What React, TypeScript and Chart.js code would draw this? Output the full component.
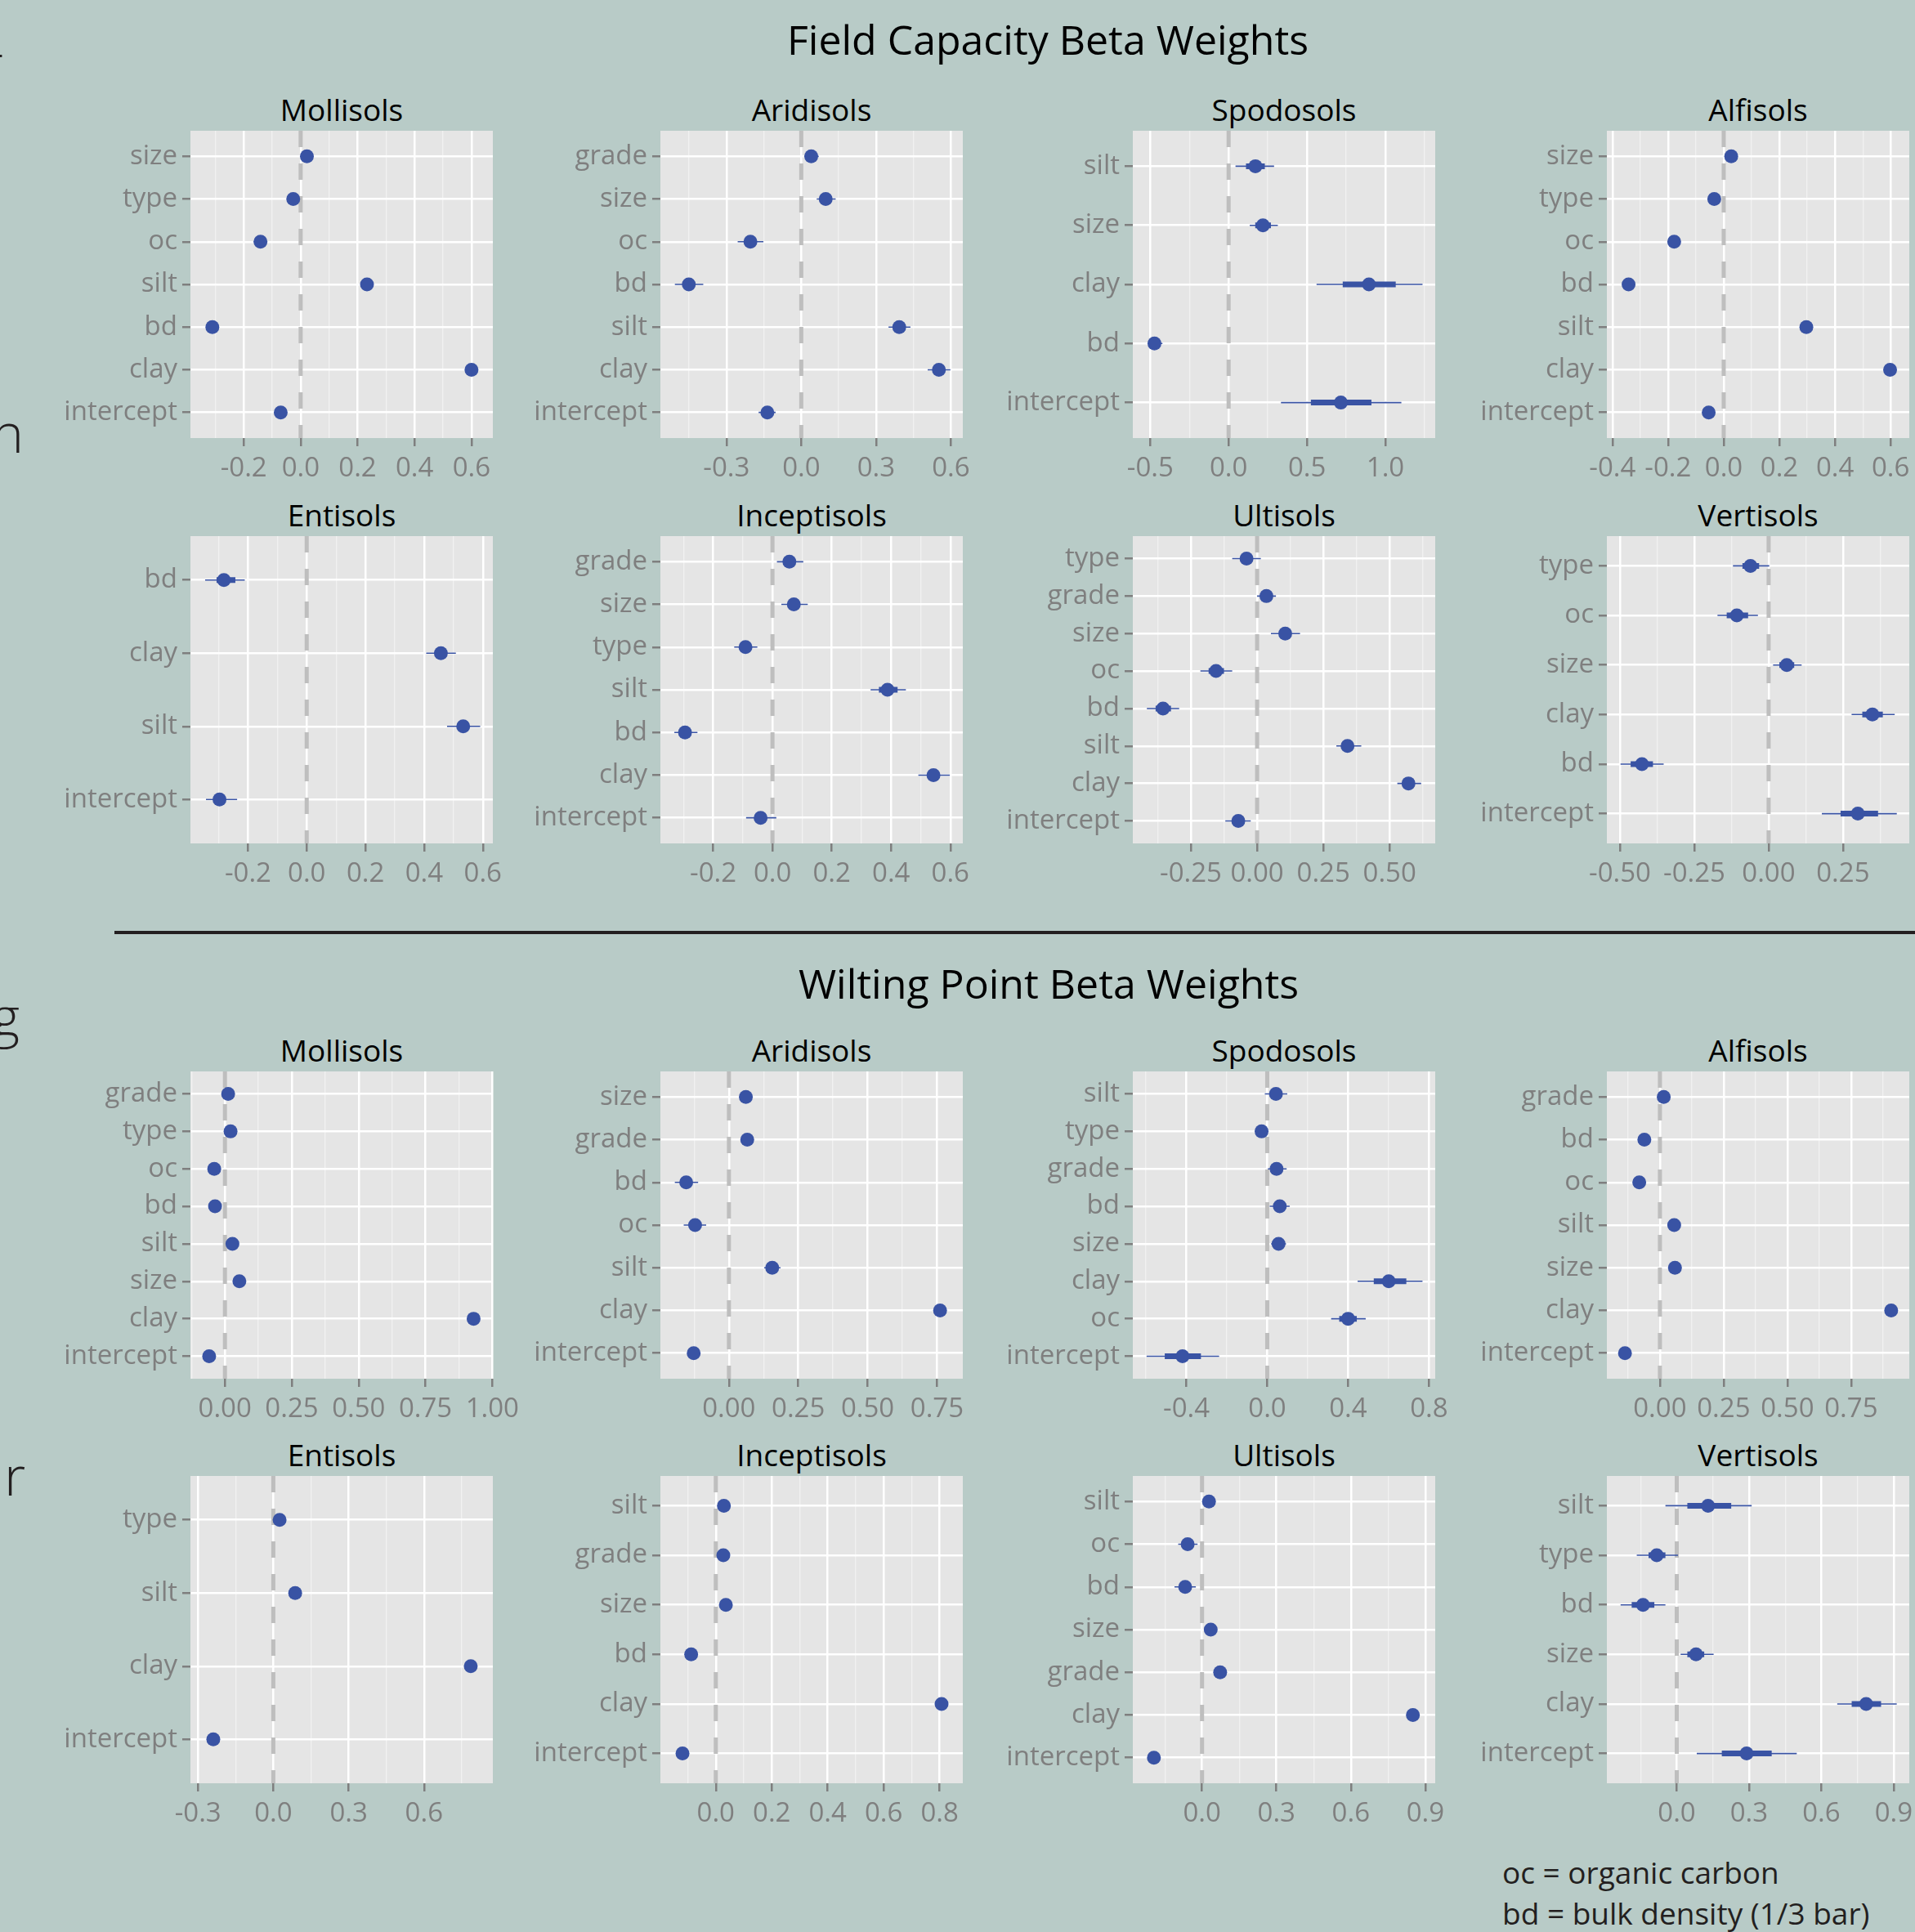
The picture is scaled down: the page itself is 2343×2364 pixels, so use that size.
import React, { useEffect, useRef } from "react";
import { Chart, registerables } from "chart.js";

Chart.register(...registerables);

// ---------------- DATA ----------------
// Field Capacity
const fcMollisolsLabels = ["size", "type", "oc", "silt", "bd", "clay", "intercept"];
const fcMollisolsEst = [0.022, -0.026, -0.141, 0.233, -0.31, 0.6, -0.07];
const fcMollisolsLo95 = [0.01, -0.036, -0.165, 0.222, -0.332, 0.588, -0.082];
const fcMollisolsHi95 = [0.034, -0.016, -0.117, 0.244, -0.288, 0.612, -0.058];
const fcMollisolsLo50 = [0.018, -0.03, -0.149, 0.229, -0.318, 0.596, -0.074];
const fcMollisolsHi50 = [0.026, -0.022, -0.133, 0.237, -0.302, 0.604, -0.066];
const fcMollisolsRange = [-0.387, 0.675];
const fcMollisolsTicks = ["-0.2", "0.0", "0.2", "0.4", "0.6"];
const fcMollisolsMinor = [-0.3, -0.1, 0.1, 0.3, 0.5];

const fcAridisolsLabels = ["grade", "size", "oc", "bd", "silt", "clay", "intercept"];
const fcAridisolsEst = [0.04, 0.098, -0.204, -0.451, 0.393, 0.552, -0.136];
const fcAridisolsLo95 = [0.012, 0.062, -0.255, -0.507, 0.35, 0.507, -0.171];
const fcAridisolsHi95 = [0.07, 0.138, -0.152, -0.393, 0.438, 0.598, -0.103];
const fcAridisolsLo50 = [0.028, 0.082, -0.222, -0.472, 0.378, 0.537, -0.15];
const fcAridisolsHi50 = [0.052, 0.114, -0.186, -0.43, 0.408, 0.567, -0.122];
const fcAridisolsRange = [-0.565, 0.648];
const fcAridisolsTicks = ["-0.3", "0.0", "0.3", "0.6"];
const fcAridisolsMinor = [-0.45, -0.15, 0.15, 0.45];

const fcSpodosolsLabels = ["silt", "size", "clay", "bd", "intercept"];
const fcSpodosolsEst = [0.171, 0.219, 0.895, -0.473, 0.716];
const fcSpodosolsLo95 = [0.044, 0.135, 0.561, -0.513, 0.334];
const fcSpodosolsHi95 = [0.29, 0.314, 1.237, -0.422, 1.102];
const fcSpodosolsLo50 = [0.111, 0.17, 0.728, -0.49, 0.525];
const fcSpodosolsHi50 = [0.231, 0.27, 1.066, -0.455, 0.911];
const fcSpodosolsRange = [-0.611, 1.318];
const fcSpodosolsTicks = ["-0.5", "0.0", "0.5", "1.0"];
const fcSpodosolsMinor = [-0.25, 0.25, 0.75, 1.25];

const fcAlfisolsLabels = ["size", "type", "oc", "bd", "silt", "clay", "intercept"];
const fcAlfisolsEst = [0.027, -0.034, -0.178, -0.342, 0.297, 0.598, -0.054];
const fcAlfisolsLo95 = [0.017, -0.044, -0.19, -0.356, 0.287, 0.588, -0.064];
const fcAlfisolsHi95 = [0.037, -0.024, -0.166, -0.328, 0.307, 0.608, -0.044];
const fcAlfisolsLo50 = [0.023, -0.038, -0.183, -0.347, 0.293, 0.594, -0.058];
const fcAlfisolsHi50 = [0.031, -0.03, -0.173, -0.337, 0.301, 0.602, -0.05];
const fcAlfisolsRange = [-0.42, 0.667];
const fcAlfisolsTicks = ["-0.4", "-0.2", "0.0", "0.2", "0.4", "0.6"];
const fcAlfisolsMinor = [-0.3, -0.1, 0.1, 0.3, 0.5];

const fcEntisolsLabels = ["bd", "clay", "silt", "intercept"];
const fcEntisolsEst = [-0.282, 0.457, 0.533, -0.297];
const fcEntisolsLo95 = [-0.346, 0.407, 0.478, -0.343];
const fcEntisolsHi95 = [-0.211, 0.508, 0.591, -0.237];
const fcEntisolsLo50 = [-0.307, 0.44, 0.515, -0.315];
const fcEntisolsHi50 = [-0.243, 0.474, 0.551, -0.279];
const fcEntisolsRange = [-0.396, 0.634];
const fcEntisolsTicks = ["-0.2", "0.0", "0.2", "0.4", "0.6"];
const fcEntisolsMinor = [-0.3, -0.1, 0.1, 0.3, 0.5];

const fcInceptisolsLabels = ["grade", "size", "type", "silt", "bd", "clay", "intercept"];
const fcInceptisolsEst = [0.057, 0.072, -0.091, 0.388, -0.295, 0.543, -0.04];
const fcInceptisolsLo95 = [0.015, 0.03, -0.129, 0.331, -0.331, 0.492, -0.089];
const fcInceptisolsHi95 = [0.104, 0.119, -0.051, 0.45, -0.253, 0.598, 0.013];
const fcInceptisolsLo50 = [0.043, 0.058, -0.104, 0.359, -0.308, 0.526, -0.057];
const fcInceptisolsHi50 = [0.072, 0.087, -0.078, 0.422, -0.28, 0.561, -0.023];
const fcInceptisolsRange = [-0.378, 0.642];
const fcInceptisolsTicks = ["-0.2", "0.0", "0.2", "0.4", "0.6"];
const fcInceptisolsMinor = [-0.3, -0.1, 0.1, 0.3, 0.5];

const fcUltisolsLabels = ["type", "grade", "size", "oc", "bd", "silt", "clay", "intercept"];
const fcUltisolsEst = [-0.04, 0.035, 0.106, -0.155, -0.355, 0.341, 0.571, -0.071];
const fcUltisolsLo95 = [-0.094, 0.0, 0.052, -0.214, -0.416, 0.299, 0.529, -0.12];
const fcUltisolsHi95 = [0.014, 0.071, 0.162, -0.094, -0.294, 0.393, 0.619, -0.024];
const fcUltisolsLo50 = [-0.06, 0.022, 0.086, -0.183, -0.383, 0.324, 0.555, -0.088];
const fcUltisolsHi50 = [-0.02, 0.048, 0.126, -0.125, -0.325, 0.358, 0.587, -0.054];
const fcUltisolsRange = [-0.469, 0.672];
const fcUltisolsTicks = ["-0.25", "0.00", "0.25", "0.50"];
const fcUltisolsMinor = [-0.375, -0.125, 0.125, 0.375, 0.625];

const fcVertisolsLabels = ["type", "oc", "size", "clay", "bd", "intercept"];
const fcVertisolsEst = [-0.061, -0.107, 0.061, 0.349, -0.426, 0.3];
const fcVertisolsLo95 = [-0.12, -0.172, 0.015, 0.279, -0.498, 0.179];
const fcVertisolsHi95 = [0.002, -0.036, 0.111, 0.424, -0.353, 0.431];
const fcVertisolsLo50 = [-0.088, -0.141, 0.036, 0.315, -0.464, 0.242];
const fcVertisolsHi50 = [-0.032, -0.069, 0.086, 0.384, -0.389, 0.368];
const fcVertisolsRange = [-0.544, 0.473];
const fcVertisolsTicks = ["-0.50", "-0.25", "0.00", "0.25"];
const fcVertisolsMinor = [-0.375, -0.125, 0.125, 0.375];

// Wilting Point
const wpMollisolsLabels = ["grade", "type", "oc", "bd", "silt", "size", "clay", "intercept"];
const wpMollisolsEst = [0.012, 0.021, -0.04, -0.037, 0.028, 0.054, 0.93, -0.059];
const wpMollisolsLo95 = [0.0, 0.009, -0.052, -0.049, 0.016, 0.042, 0.918, -0.071];
const wpMollisolsHi95 = [0.024, 0.033, -0.028, -0.025, 0.04, 0.066, 0.942, -0.047];
const wpMollisolsLo50 = [0.008, 0.017, -0.044, -0.041, 0.024, 0.05, 0.926, -0.063];
const wpMollisolsHi50 = [0.016, 0.025, -0.036, -0.033, 0.032, 0.058, 0.934, -0.055];
const wpMollisolsRange = [-0.129, 1.002];
const wpMollisolsTicks = ["0.00", "0.25", "0.50", "0.75", "1.00"];
const wpMollisolsMinor = [-0.125, 0.125, 0.375, 0.625, 0.875];

const wpAridisolsLabels = ["size", "grade", "bd", "oc", "silt", "clay", "intercept"];
const wpAridisolsEst = [0.061, 0.066, -0.154, -0.122, 0.156, 0.761, -0.127];
const wpAridisolsLo95 = [0.045, 0.052, -0.195, -0.163, 0.127, 0.745, -0.142];
const wpAridisolsHi95 = [0.077, 0.08, -0.111, -0.082, 0.186, 0.777, -0.112];
const wpAridisolsLo50 = [0.055, 0.061, -0.168, -0.136, 0.146, 0.755, -0.132];
const wpAridisolsHi50 = [0.067, 0.071, -0.14, -0.108, 0.166, 0.767, -0.122];
const wpAridisolsRange = [-0.247, 0.843];
const wpAridisolsTicks = ["0.00", "0.25", "0.50", "0.75"];
const wpAridisolsMinor = [-0.125, 0.125, 0.375, 0.625];

const wpSpodosolsLabels = ["silt", "type", "grade", "bd", "size", "clay", "oc", "intercept"];
const wpSpodosolsEst = [0.043, -0.028, 0.046, 0.062, 0.056, 0.601, 0.4, -0.419];
const wpSpodosolsLo95 = [-0.012, -0.059, 0.003, 0.012, 0.019, 0.447, 0.316, -0.597];
const wpSpodosolsHi95 = [0.099, 0.003, 0.096, 0.111, 0.093, 0.768, 0.487, -0.238];
const wpSpodosolsLo50 = [0.02, -0.042, 0.025, 0.04, 0.04, 0.527, 0.356, -0.507];
const wpSpodosolsHi50 = [0.066, -0.014, 0.067, 0.084, 0.072, 0.688, 0.443, -0.328];
const wpSpodosolsRange = [-0.665, 0.831];
const wpSpodosolsTicks = ["-0.4", "0.0", "0.4", "0.8"];
const wpSpodosolsMinor = [-0.6, -0.2, 0.2, 0.6];

const wpAlfisolsLabels = ["grade", "bd", "oc", "silt", "size", "clay", "intercept"];
const wpAlfisolsEst = [0.015, -0.061, -0.081, 0.056, 0.059, 0.907, -0.137];
const wpAlfisolsLo95 = [0.005, -0.071, -0.091, 0.046, 0.049, 0.897, -0.147];
const wpAlfisolsHi95 = [0.025, -0.051, -0.071, 0.066, 0.069, 0.917, -0.127];
const wpAlfisolsLo50 = [0.011, -0.065, -0.085, 0.052, 0.055, 0.903, -0.141];
const wpAlfisolsHi50 = [0.019, -0.057, -0.077, 0.06, 0.063, 0.911, -0.133];
const wpAlfisolsRange = [-0.208, 0.978];
const wpAlfisolsTicks = ["0.00", "0.25", "0.50", "0.75"];
const wpAlfisolsMinor = [-0.125, 0.125, 0.375, 0.625, 0.875];

const wpEntisolsLabels = ["type", "silt", "clay", "intercept"];
const wpEntisolsEst = [0.025, 0.087, 0.786, -0.239];
const wpEntisolsLo95 = [0.01, 0.062, 0.763, -0.262];
const wpEntisolsHi95 = [0.04, 0.112, 0.809, -0.216];
const wpEntisolsLo50 = [0.019, 0.078, 0.778, -0.247];
const wpEntisolsHi50 = [0.031, 0.096, 0.794, -0.231];
const wpEntisolsRange = [-0.33, 0.874];
const wpEntisolsTicks = ["-0.3", "0.0", "0.3", "0.6"];
const wpEntisolsMinor = [-0.15, 0.15, 0.45, 0.75];

const wpInceptisolsLabels = ["silt", "grade", "size", "bd", "clay", "intercept"];
const wpInceptisolsEst = [0.029, 0.027, 0.036, -0.088, 0.807, -0.119];
const wpInceptisolsLo95 = [0.012, 0.015, 0.022, -0.102, 0.79, -0.133];
const wpInceptisolsHi95 = [0.046, 0.039, 0.05, -0.074, 0.824, -0.105];
const wpInceptisolsLo50 = [0.023, 0.022, 0.031, -0.093, 0.801, -0.124];
const wpInceptisolsHi50 = [0.035, 0.032, 0.041, -0.083, 0.813, -0.114];
const wpInceptisolsRange = [-0.198, 0.883];
const wpInceptisolsTicks = ["0.0", "0.2", "0.4", "0.6", "0.8"];
const wpInceptisolsMinor = [-0.1, 0.1, 0.3, 0.5, 0.7];

const wpUltisolsLabels = ["silt", "oc", "bd", "size", "grade", "clay", "intercept"];
const wpUltisolsEst = [0.028, -0.058, -0.068, 0.035, 0.073, 0.85, -0.194];
const wpUltisolsLo95 = [0.01, -0.096, -0.111, 0.015, 0.058, 0.832, -0.21];
const wpUltisolsHi95 = [0.046, -0.018, -0.025, 0.055, 0.088, 0.868, -0.178];
const wpUltisolsLo50 = [0.021, -0.072, -0.083, 0.028, 0.067, 0.843, -0.2];
const wpUltisolsHi50 = [0.035, -0.044, -0.053, 0.042, 0.079, 0.857, -0.188];
const wpUltisolsRange = [-0.279, 0.94];
const wpUltisolsTicks = ["0.0", "0.3", "0.6", "0.9"];
const wpUltisolsMinor = [-0.15, 0.15, 0.45, 0.75];

const wpVertisolsLabels = ["silt", "type", "bd", "size", "clay", "intercept"];
const wpVertisolsEst = [0.13, -0.083, -0.14, 0.08, 0.786, 0.29];
const wpVertisolsLo95 = [-0.047, -0.166, -0.233, 0.016, 0.666, 0.083];
const wpVertisolsHi95 = [0.311, 0.005, -0.047, 0.153, 0.913, 0.498];
const wpVertisolsLo50 = [0.044, -0.117, -0.187, 0.044, 0.726, 0.187];
const wpVertisolsHi50 = [0.226, -0.047, -0.093, 0.114, 0.848, 0.394];
const wpVertisolsRange = [-0.29, 0.965];
const wpVertisolsTicks = ["0.0", "0.3", "0.6", "0.9"];
const wpVertisolsMinor = [-0.15, 0.15, 0.45, 0.75];

const sectionTitles = ["Field Capacity Beta Weights", "Wilting Point Beta Weights"];
const captionLines = ["oc = organic carbon", "bd = bulk density (1/3 bar)"];

// ---------------- PANEL SPECS ----------------
type Spec = {
  title: string;
  labels: string[];
  est: number[];
  lo95: number[];
  hi95: number[];
  lo50: number[];
  hi50: number[];
  range: number[];
  ticks: string[];
  minor: number[];
};

const PANELS: Spec[] = [
  { title: "Mollisols", labels: fcMollisolsLabels, est: fcMollisolsEst, lo95: fcMollisolsLo95, hi95: fcMollisolsHi95, lo50: fcMollisolsLo50, hi50: fcMollisolsHi50, range: fcMollisolsRange, ticks: fcMollisolsTicks, minor: fcMollisolsMinor },
  { title: "Aridisols", labels: fcAridisolsLabels, est: fcAridisolsEst, lo95: fcAridisolsLo95, hi95: fcAridisolsHi95, lo50: fcAridisolsLo50, hi50: fcAridisolsHi50, range: fcAridisolsRange, ticks: fcAridisolsTicks, minor: fcAridisolsMinor },
  { title: "Spodosols", labels: fcSpodosolsLabels, est: fcSpodosolsEst, lo95: fcSpodosolsLo95, hi95: fcSpodosolsHi95, lo50: fcSpodosolsLo50, hi50: fcSpodosolsHi50, range: fcSpodosolsRange, ticks: fcSpodosolsTicks, minor: fcSpodosolsMinor },
  { title: "Alfisols", labels: fcAlfisolsLabels, est: fcAlfisolsEst, lo95: fcAlfisolsLo95, hi95: fcAlfisolsHi95, lo50: fcAlfisolsLo50, hi50: fcAlfisolsHi50, range: fcAlfisolsRange, ticks: fcAlfisolsTicks, minor: fcAlfisolsMinor },
  { title: "Entisols", labels: fcEntisolsLabels, est: fcEntisolsEst, lo95: fcEntisolsLo95, hi95: fcEntisolsHi95, lo50: fcEntisolsLo50, hi50: fcEntisolsHi50, range: fcEntisolsRange, ticks: fcEntisolsTicks, minor: fcEntisolsMinor },
  { title: "Inceptisols", labels: fcInceptisolsLabels, est: fcInceptisolsEst, lo95: fcInceptisolsLo95, hi95: fcInceptisolsHi95, lo50: fcInceptisolsLo50, hi50: fcInceptisolsHi50, range: fcInceptisolsRange, ticks: fcInceptisolsTicks, minor: fcInceptisolsMinor },
  { title: "Ultisols", labels: fcUltisolsLabels, est: fcUltisolsEst, lo95: fcUltisolsLo95, hi95: fcUltisolsHi95, lo50: fcUltisolsLo50, hi50: fcUltisolsHi50, range: fcUltisolsRange, ticks: fcUltisolsTicks, minor: fcUltisolsMinor },
  { title: "Vertisols", labels: fcVertisolsLabels, est: fcVertisolsEst, lo95: fcVertisolsLo95, hi95: fcVertisolsHi95, lo50: fcVertisolsLo50, hi50: fcVertisolsHi50, range: fcVertisolsRange, ticks: fcVertisolsTicks, minor: fcVertisolsMinor },
  { title: "Mollisols", labels: wpMollisolsLabels, est: wpMollisolsEst, lo95: wpMollisolsLo95, hi95: wpMollisolsHi95, lo50: wpMollisolsLo50, hi50: wpMollisolsHi50, range: wpMollisolsRange, ticks: wpMollisolsTicks, minor: wpMollisolsMinor },
  { title: "Aridisols", labels: wpAridisolsLabels, est: wpAridisolsEst, lo95: wpAridisolsLo95, hi95: wpAridisolsHi95, lo50: wpAridisolsLo50, hi50: wpAridisolsHi50, range: wpAridisolsRange, ticks: wpAridisolsTicks, minor: wpAridisolsMinor },
  { title: "Spodosols", labels: wpSpodosolsLabels, est: wpSpodosolsEst, lo95: wpSpodosolsLo95, hi95: wpSpodosolsHi95, lo50: wpSpodosolsLo50, hi50: wpSpodosolsHi50, range: wpSpodosolsRange, ticks: wpSpodosolsTicks, minor: wpSpodosolsMinor },
  { title: "Alfisols", labels: wpAlfisolsLabels, est: wpAlfisolsEst, lo95: wpAlfisolsLo95, hi95: wpAlfisolsHi95, lo50: wpAlfisolsLo50, hi50: wpAlfisolsHi50, range: wpAlfisolsRange, ticks: wpAlfisolsTicks, minor: wpAlfisolsMinor },
  { title: "Entisols", labels: wpEntisolsLabels, est: wpEntisolsEst, lo95: wpEntisolsLo95, hi95: wpEntisolsHi95, lo50: wpEntisolsLo50, hi50: wpEntisolsHi50, range: wpEntisolsRange, ticks: wpEntisolsTicks, minor: wpEntisolsMinor },
  { title: "Inceptisols", labels: wpInceptisolsLabels, est: wpInceptisolsEst, lo95: wpInceptisolsLo95, hi95: wpInceptisolsHi95, lo50: wpInceptisolsLo50, hi50: wpInceptisolsHi50, range: wpInceptisolsRange, ticks: wpInceptisolsTicks, minor: wpInceptisolsMinor },
  { title: "Ultisols", labels: wpUltisolsLabels, est: wpUltisolsEst, lo95: wpUltisolsLo95, hi95: wpUltisolsHi95, lo50: wpUltisolsLo50, hi50: wpUltisolsHi50, range: wpUltisolsRange, ticks: wpUltisolsTicks, minor: wpUltisolsMinor },
  { title: "Vertisols", labels: wpVertisolsLabels, est: wpVertisolsEst, lo95: wpVertisolsLo95, hi95: wpVertisolsHi95, lo50: wpVertisolsLo50, hi50: wpVertisolsHi50, range: wpVertisolsRange, ticks: wpVertisolsTicks, minor: wpVertisolsMinor },
];

// ---------------- LAYOUT / STYLE ----------------
const PAGE_W = 2343;
const PAGE_H = 2364;
const BG = "#B8CBC7";
const PANEL_BG = "#E5E5E5";
const MINOR_GRID = "#F1F1F1";
const BLUE = "#3953A4";
const AXIS_GREY = "#7F7F7F";
const INK = "#231F20";
const FONT = "'Open Sans', 'Noto Sans', 'DejaVu Sans', sans-serif";

const COL_LEFT = [233, 808, 1386, 1966];
const ROW_TOP = [160, 656, 1311, 1806];
const PLOT_W = 370;
const PLOT_H = 376;
const YW = 220; // y-axis band width
const PT = 40; // top padding in canvas
const PR = 44; // right padding in canvas
const XH = 62; // x-axis band height
const CW = YW + PLOT_W + PR;
const CH = PT + PLOT_H + XH;

const panelBgPlugin = {
  id: "panelBg",
  beforeDraw(chart: any) {
    const { ctx, chartArea: a } = chart;
    ctx.save();
    ctx.fillStyle = PANEL_BG;
    ctx.fillRect(a.left, a.top, a.right - a.left, a.bottom - a.top);
    ctx.restore();
  },
};

function Panel({ spec, row, col }: { spec: Spec; row: number; col: number }) {
  const ref = useRef<HTMLCanvasElement | null>(null);

  useEffect(() => {
    const canvas = ref.current;
    if (!canvas) return;
    const n = spec.labels.length;
    const [xMin, xMax] = spec.range;
    const majorVals = spec.ticks.map(Number);
    const labelMap = new Map<number, string>();
    majorVals.forEach((v, i) => labelMap.set(v, spec.ticks[i]));
    const xTicks = [
      ...majorVals.map((v) => ({ value: v, minor: false })),
      ...spec.minor.map((v) => ({ value: v, minor: true })),
    ]
      .filter((t) => t.value >= xMin - 1e-9 && t.value <= xMax + 1e-9)
      .sort((a, b) => a.value - b.value);
    const yTicks = spec.labels.map((_, i) => ({ value: i + 1, minor: false }));

    const seg = (lo: number[], hi: number[]) => {
      const out: any[] = [];
      lo.forEach((l, i) => {
        out.push({ x: l, y: i + 1 }, { x: hi[i], y: i + 1 }, { x: l, y: null });
      });
      return out;
    };

    const isMinor = (ctx: any) => !!(ctx && ctx.tick && ctx.tick.minor);

    const chart = new Chart(canvas, {
      type: "scatter",
      data: {
        datasets: [
          {
            data: spec.est.map((v, i) => ({ x: v, y: i + 1 })),
            pointRadius: 8.5,
            pointHoverRadius: 8.5,
            backgroundColor: BLUE,
            borderColor: BLUE,
            borderWidth: 0,
            pointBorderWidth: 0,
          },
          {
            data: seg(spec.lo50, spec.hi50),
            showLine: true,
            borderColor: BLUE,
            borderWidth: 7,
            borderCapStyle: "butt",
            pointRadius: 0,
            pointHoverRadius: 0,
            spanGaps: false,
          },
          {
            data: seg(spec.lo95, spec.hi95),
            showLine: true,
            borderColor: BLUE,
            borderWidth: 1.6,
            borderCapStyle: "butt",
            pointRadius: 0,
            pointHoverRadius: 0,
            spanGaps: false,
          },
          {
            data: [
              { x: 0, y: 0.4 },
              { x: 0, y: n + 0.6 },
            ],
            showLine: true,
            borderColor: "#BEBEBE",
            borderWidth: 5,
            borderDash: [20, 20],
            borderCapStyle: "butt",
            pointRadius: 0,
            pointHoverRadius: 0,
          },
        ],
      } as any,
      options: {
        animation: false,
        responsive: false,
        maintainAspectRatio: false,
        devicePixelRatio: 1,
        events: [],
        layout: { padding: { left: 0, top: PT, right: PR, bottom: 0 } },
        plugins: {
          legend: { display: false },
          tooltip: { enabled: false },
          title: { display: false },
        },
        scales: {
          x: {
            type: "linear",
            min: xMin,
            max: xMax,
            bounds: "data",
            afterBuildTicks: (s: any) => {
              s.ticks = xTicks.map((t) => ({ ...t }));
            },
            afterFit: (s: any) => {
              s.height = XH;
            },
            border: { display: false },
            grid: {
              drawOnChartArea: true,
              drawTicks: true,
              tickLength: 10,
              color: (ctx: any) => (isMinor(ctx) ? MINOR_GRID : "#FFFFFF"),
              lineWidth: (ctx: any) => (isMinor(ctx) ? 1.3 : 2.5),
              tickColor: (ctx: any) => (isMinor(ctx) ? "rgba(0,0,0,0)" : AXIS_GREY),
              tickWidth: 2.5,
            },
            ticks: {
              autoSkip: false,
              maxRotation: 0,
              minRotation: 0,
              padding: 8,
              color: AXIS_GREY,
              font: { family: FONT, size: 33 },
              callback: (v: any) => labelMap.get(Number(v)) ?? "",
            },
          },
          y: {
            type: "linear",
            reverse: true,
            min: 0.4,
            max: n + 0.6,
            bounds: "data",
            afterBuildTicks: (s: any) => {
              s.ticks = yTicks.map((t) => ({ ...t }));
            },
            afterFit: (s: any) => {
              s.width = YW;
            },
            border: { display: false },
            grid: {
              drawOnChartArea: true,
              drawTicks: true,
              tickLength: 10,
              color: "#FFFFFF",
              lineWidth: 2.5,
              tickColor: AXIS_GREY,
              tickWidth: 2.5,
            },
            ticks: {
              autoSkip: false,
              padding: 6,
              color: AXIS_GREY,
              font: { family: FONT, size: 33 },
              callback: (v: any) => spec.labels[Math.round(Number(v)) - 1] ?? "",
            },
          },
        },
      } as any,
      plugins: [panelBgPlugin],
    });
    return () => chart.destroy();
  }, [spec]);

  const left = COL_LEFT[col] - YW;
  const top = ROW_TOP[row] - PT;
  return (
    <canvas
      ref={ref}
      width={CW}
      height={CH}
      style={{ position: "absolute", left, top, width: CW, height: CH }}
    />
  );
}

function TextAt({
  text,
  x,
  baseline,
  size,
  color,
  align = "left",
  weight = 400,
}: {
  text: string;
  x: number;
  baseline: number;
  size: number;
  color: string;
  align?: "left" | "center" | "right";
  weight?: number;
}) {
  const style: any = {
    position: "absolute",
    top: baseline - 0.888 * size,
    fontFamily: FONT,
    fontSize: size,
    lineHeight: `${size}px`,
    color,
    whiteSpace: "nowrap",
    fontWeight: weight,
  };
  if (align === "left") style.left = x;
  if (align === "center") {
    style.left = x;
    style.transform = "translateX(-50%)";
  }
  if (align === "right") style.right = PAGE_W - x;
  return <div style={style}>{text}</div>;
}

export default function App() {
  useEffect(() => {
    document.body.style.margin = "0";
  }, []);

  return (
    <div
      style={{
        position: "absolute",
        left: 0,
        top: 0,
        width: PAGE_W,
        height: PAGE_H,
        background: BG,
        overflow: "hidden",
      }}
    >
      {/* clipped fragments of neighbouring text at the left edge */}
      <TextAt text="-" x={5} baseline={86} size={67} color={INK} align="right" weight={300} />
      <TextAt text="n" x={29} baseline={554} size={67} color={INK} align="right" weight={300} />
      <TextAt text="g" x={24} baseline={1268} size={67} color={INK} align="right" weight={300} />
      <TextAt text="ar" x={31} baseline={1830} size={67} color={INK} align="right" weight={300} />

      <TextAt text={sectionTitles[0]} x={1282} baseline={67} size={50} color="#000" align="center" />
      <TextAt text={sectionTitles[1]} x={1283} baseline={1222} size={50} color="#000" align="center" />

      <div
        style={{
          position: "absolute",
          left: 140,
          top: 1139,
          width: PAGE_W - 140,
          height: 4,
          background: INK,
        }}
      />

      {PANELS.map((spec, i) => {
        const row = Math.floor(i / 4);
        const col = i % 4;
        return (
          <React.Fragment key={i}>
            <TextAt
              text={spec.title}
              x={COL_LEFT[col] + PLOT_W / 2}
              baseline={ROW_TOP[row] - 12}
              size={37}
              color="#000"
              align="center"
            />
            <Panel spec={spec} row={row} col={col} />
          </React.Fragment>
        );
      })}

      <TextAt text={captionLines[0]} x={1838} baseline={2305} size={37} color={INK} />
      <TextAt text={captionLines[1]} x={1838} baseline={2355} size={37} color={INK} />
    </div>
  );
}
